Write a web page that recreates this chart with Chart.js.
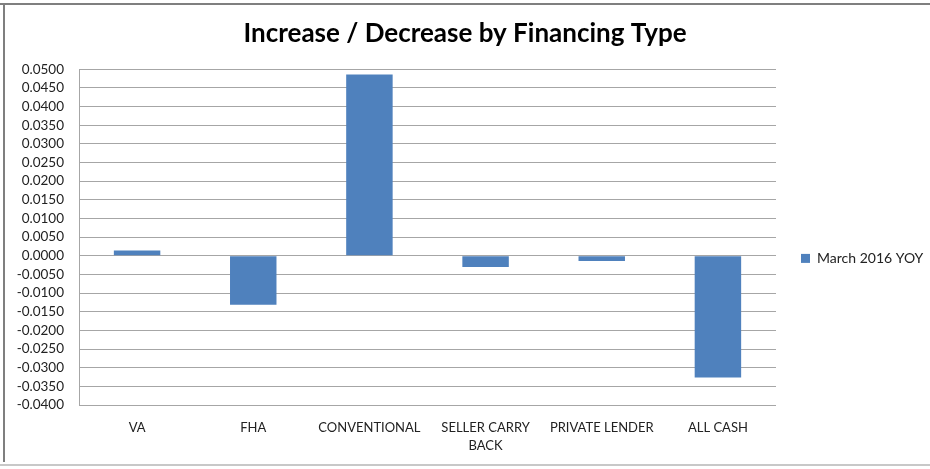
<!DOCTYPE html>
<html>
<head>
<meta charset="utf-8">
<script src="https://cdn.jsdelivr.net/npm/chart.js@4/dist/chart.umd.min.js"></script>
<style>
  html, body { margin: 0; padding: 0; background: #ffffff; }
  #wrap { position: relative; width: 930px; height: 469px; }
</style>
</head>
<body>
<div id="wrap"><canvas id="chart" width="930" height="469"></canvas></div>
<script>
// Financing types along the category axis
const categories = ['VA', 'FHA', 'CONVENTIONAL', ['SELLER CARRY', 'BACK'], 'PRIVATE LENDER', 'ALL CASH'];
// Year-over-year change for each financing type
const seriesName = 'March 2016 YOY';
const yoyChange = [0.0014, -0.0131, 0.0486, -0.0030, -0.0014, -0.0326];
// Value axis range and step
const axisMin = -0.04;
const axisMax = 0.05;
const axisStep = 0.005;

const FONT = 'Lato, "Open Sans", sans-serif';
const TEXT = '#222222';

// Thin frame around the whole chart
const framePlugin = {
  id: 'frame',
  afterDraw(chart) {
    const ctx = chart.ctx;
    ctx.save();
    ctx.fillStyle = '#7f7f7f';
    ctx.fillRect(0, 3, 930, 2);
    ctx.fillRect(3, 3, 2, 459);
    ctx.fillStyle = '#c8c8c8';
    ctx.fillRect(0, 464, 930, 2);
    ctx.restore();
  }
};

new Chart(document.getElementById('chart'), {
  type: 'bar',
  data: {
    labels: categories,
    datasets: [{
      label: seriesName,
      data: yoyChange,
      backgroundColor: '#4f81bd',
      borderColor: '#4f81bd',
      borderWidth: 0,
      categoryPercentage: 1.0,
      barPercentage: 0.4
    }]
  },
  options: {
    responsive: false,
    animation: false,
    devicePixelRatio: 1,
    layout: { padding: { left: 0, right: 0, top: 14, bottom: 0 } },
    plugins: {
      title: {
        display: true,
        text: 'Increase / Decrease by Financing Type',
        color: '#000000',
        font: { family: FONT, size: 26, weight: 'bold' },
        padding: { top: 4, bottom: 20 }
      },
      legend: {
        position: 'right',
        maxWidth: 154,
        // blank legend title used only as spacing above the entry
        title: {
          display: true,
          text: ' ',
          font: { family: FONT, size: 14 },
          padding: { top: 0, bottom: 17 }
        },
        labels: {
          boxWidth: 9,
          boxHeight: 9,
          padding: 25,
          color: TEXT,
          font: { family: FONT, size: 14 }
        }
      },
      tooltip: { enabled: false }
    },
    scales: {
      x: {
        afterFit(scale) { scale.height = 64; },
        grid: { display: false, drawTicks: false },
        border: { display: false },
        ticks: {
          color: TEXT,
          font: { family: FONT, size: 13, lineHeight: 1.45 },
          padding: 13,
          maxRotation: 0,
          autoSkip: false
        }
      },
      y: {
        min: axisMin,
        max: axisMax,
        afterFit(scale) { scale.width = 79; },
        grid: { color: '#a6a6a6', lineWidth: 1, drawTicks: false },
        border: { display: true, color: '#a6a6a6', width: 1 },
        ticks: {
          stepSize: axisStep,
          autoSkip: false,
          color: TEXT,
          font: { family: FONT, size: 13.5 },
          padding: 15,
          callback: (v) => Number(v).toFixed(4)
        }
      }
    }
  },
  plugins: [framePlugin]
});
</script>
</body>
</html>
